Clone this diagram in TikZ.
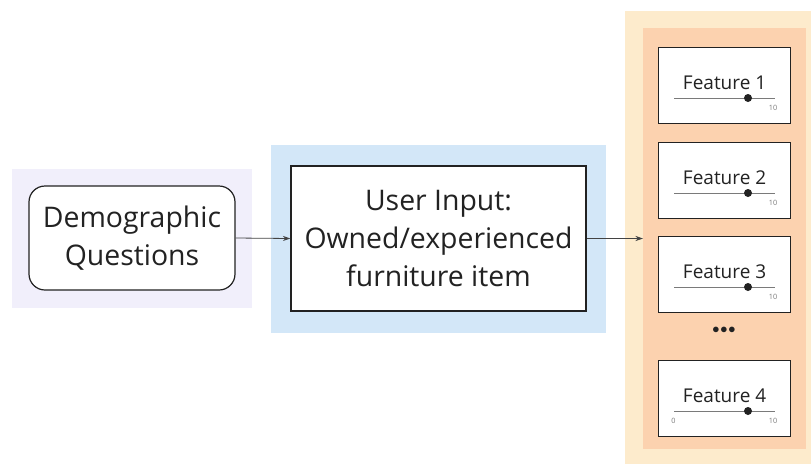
\documentclass[tikz,border=0pt]{standalone}
\usepackage{fontspec}
\setmainfont{Open Sans}
\usetikzlibrary{arrows.meta,calc}
\definecolor{purplebg}{HTML}{F1EFFB}
\definecolor{bluebg}{HTML}{D3E7F8}
\definecolor{outerorange}{HTML}{FDEBCC}
\definecolor{innerorange}{HTML}{FCD2AF}
\definecolor{txt}{HTML}{222222}
\definecolor{slider}{HTML}{7A7A7A}
\tikzset{
  bg/.style={draw=none, inner sep=0pt},
  mainbox/.style={draw=txt, line width=1.2pt, fill=white, text=txt, align=center, inner sep=0pt, font=\fontsize{28.4}{38}\selectfont},
  featbox/.style={draw=txt, line width=1.2pt, fill=white, minimum width=132pt, minimum height=76pt, inner sep=0pt},
  feattitle/.style={text=txt, inner sep=0pt, font=\fontsize{19}{22}\selectfont},
  tick/.style={text=slider, inner sep=0pt, font=\fontsize{7.3}{8}\selectfont},
  sline/.style={draw=slider, line width=1pt},
  conn/.style={draw=txt!85, line width=0.8pt, -{Stealth[length=7.5pt,width=5pt]}}
}
\begin{document}
\begin{tikzpicture}[x=1pt,y=-1pt]
\useasboundingbox (0,0) rectangle (811,464);
% backgrounds
\node[bg, fill=purplebg, minimum width=240pt, minimum height=139pt] (pbg) at (132,238.5) {};
\node[bg, fill=bluebg, minimum width=335pt, minimum height=188pt] (bbg) at (438.5,239) {};
\node[bg, fill=outerorange, minimum width=186pt, minimum height=453pt] (obg) at (718,237.5) {};
\node[bg, fill=innerorange, minimum width=163pt, minimum height=421pt] (ibg) at (724.5,238.5) {};
% main boxes
\node[mainbox, rounded corners=16pt, minimum width=206pt, minimum height=104pt] (demo) at (132,238) {Demographic\\Questions};
\node[mainbox, minimum width=295pt, minimum height=145pt] (user) at (438.5,238.5) {User Input:\\Owned/experienced\\furniture item};
% feature boxes
\foreach \i/\t/\lab in {1/47/Feature 1, 2/142/Feature 2, 3/236/Feature 3, 4/360/Feature 4}{
  \node[featbox, anchor=north west] (f\i) at (658,\t) {};
  \node[feattitle] (f\i t) at ($(f\i.north)+(0,36)$) {\lab};
  \coordinate (f\i a) at (674,\t+51);
  \coordinate (f\i b) at (775,\t+51);
  \draw[sline] (f\i a) -- (f\i b);
  \node[circle, fill=txt, inner sep=0pt, minimum size=8pt] (f\i d) at (748,\t+51) {};
  \node[tick] (f\i m) at (773,\t+61) {10};
}
\node[tick] (f4z) at (673.5,421) {0};
\node[text=txt, inner sep=0pt, font=\fontsize{15}{15}\selectfont] (dots) at (724,330) {$\bullet\!\bullet\!\bullet$};
% connectors
\draw[conn] (demo.east) -- (user.west);
\coordinate (arrend) at (643,238.5);
\draw[conn] (user.east) -- (arrend);
\end{tikzpicture}
\end{document}
